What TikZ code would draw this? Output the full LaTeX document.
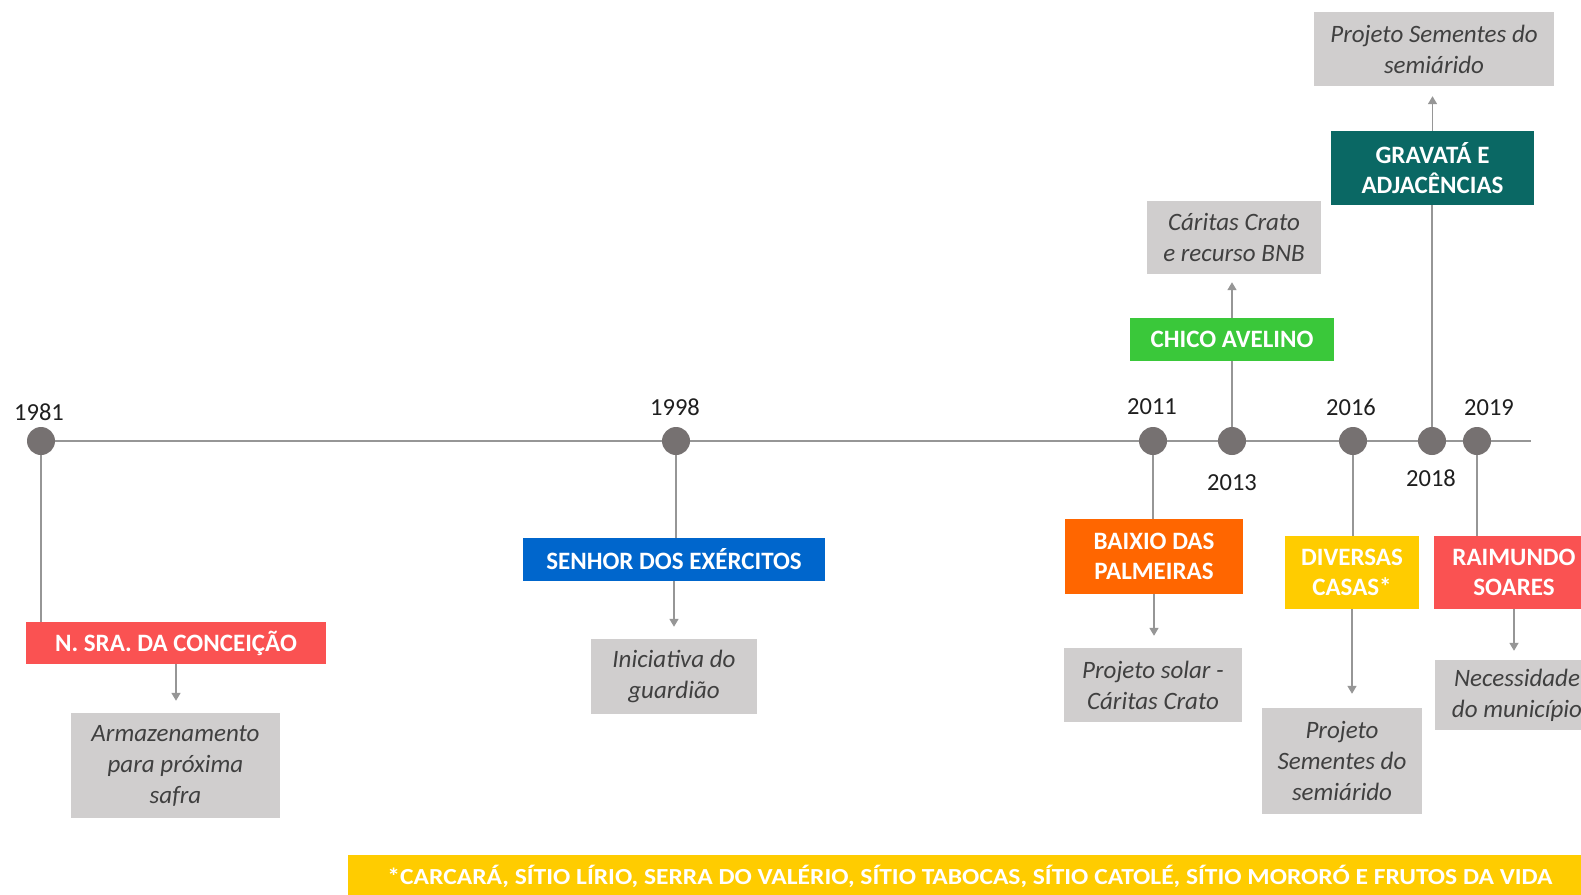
\documentclass[tikz,border=0pt]{standalone}
\usepackage{fontspec}
\setmainfont{Carlito}
\usetikzlibrary{arrows.meta}
\definecolor{cred}{RGB}{250,82,82}
\definecolor{cblue}{RGB}{0,102,204}
\definecolor{corange}{RGB}{255,102,0}
\definecolor{cgreen}{RGB}{58,200,58}
\definecolor{cteal}{RGB}{10,104,100}
\definecolor{cyellow}{RGB}{255,204,0}
\definecolor{notegray}{RGB}{208,206,206}
\definecolor{notetext}{RGB}{64,64,64}
\definecolor{linegray}{RGB}{150,150,150}
\definecolor{dotgray}{RGB}{118,113,113}
\pgfdeclarelayer{bg}
\pgfdeclarelayer{paper}
\pgfsetlayers{paper,bg,main}
\tikzset{
  lab/.style={rectangle, inner sep=0pt, text=white, align=center,
    font=\bfseries\fontsize{25}{30.5}\selectfont},
  note/.style={rectangle, fill=notegray, inner sep=0pt, text=notetext, align=center,
    font=\itshape\fontsize{25}{31}\selectfont},
  yr/.style={inner sep=0pt, text=black!88, font=\fontsize{24.5}{29}\selectfont},
  dot/.style={circle, fill=dotgray, minimum size=28pt, inner sep=0pt},
  conn/.style={draw=linegray, line width=1.6pt},
  arr/.style={conn, -{Triangle[width=9pt,length=8pt]}}
}
\begin{document}
\begin{tikzpicture}[x=1pt,y=-1pt]
\useasboundingbox (0,0) rectangle (1581,894);
\begin{pgfonlayer}{paper}
\fill[white] (0,0) rectangle (1581,894);
\end{pgfonlayer}
\clip (0,0) rectangle (1581,894);

% dots
\node[dot] (d1981) at (41,441) {};
\node[dot] (d1998) at (676,441) {};
\node[dot] (d2011) at (1153,441) {};
\node[dot] (d2013) at (1232,441) {};
\node[dot] (d2016) at (1353,441) {};
\node[dot] (d2018) at (1432,441) {};
\node[dot] (d2019) at (1477,441) {};
\coordinate (tend) at (1531,441);

% years
\node[yr] (y1981) at (39,412) {1981};
\node[yr] (y1998) at (675,407) {1998};
\node[yr] (y2011) at (1152,407) {2011};
\node[yr] (y2013) at (1232,483) {2013};
\node[yr] (y2016) at (1351,407) {2016};
\node[yr] (y2018) at (1431,478) {2018};
\node[yr] (y2019) at (1489,408) {2019};

% event boxes
\node[lab, fill=cred, minimum width=300pt, minimum height=42pt] (nsra) at (176,643) {N. SRA. DA CONCEIÇÃO};
\node[lab, fill=cblue, minimum width=302pt, minimum height=43pt] (senhor) at (674,559.5) {SENHOR DOS EXÉRCITOS};
\node[lab, fill=corange, minimum width=178pt, minimum height=75pt] (baixio) at (1154,556.5) {BAIXIO DAS\\PALMEIRAS};
\node[lab, fill=cgreen, minimum width=204pt, minimum height=43pt] (chico) at (1232,339.5) {CHICO AVELINO};
\node[lab, fill=cteal, minimum width=203pt, minimum height=74pt] (gravata) at (1432.5,168) {GRAVATÁ E\\ADJACÊNCIAS};
\node[lab, fill=cyellow, minimum width=134pt, minimum height=73pt] (diversas) at (1352,572.5) {DIVERSAS\\CASAS*};
\node[lab, fill=cred, minimum width=160pt, minimum height=73pt] (raimundo) at (1514,572.5) {RAIMUNDO\\SOARES};

% notes
\node[note, minimum width=209pt, minimum height=105pt] (arm) at (175.5,765.5) {Armazenamento\\para próxima\\safra};
\node[note, minimum width=166pt, minimum height=75pt] (inic) at (674,676.5) {Iniciativa do\\guardião};
\node[note, minimum width=178pt, minimum height=74pt] (solar) at (1153,685) {Projeto solar -\\Cáritas Crato};
\node[note, minimum width=174pt, minimum height=73pt] (caritas) at (1234,237.5) {Cáritas Crato\\e recurso BNB};
\node[note, minimum width=240pt, minimum height=74pt] (semtop) at (1434,49) {Projeto Sementes do\\semiárido};
\node[note, minimum width=160pt, minimum height=106pt] (semlow) at (1342,761) {Projeto\\Sementes do\\semiárido};
\node[note, minimum width=164pt, minimum height=70pt] (necess) at (1517,695) {Necessidade\\do município};

% footer
\node[rectangle, fill=cyellow, inner sep=0pt, minimum width=1244pt, minimum height=42pt, text=white,
  font=\bfseries\fontsize{23}{26}\selectfont] (foot) at (970,876)
  {\resizebox{1165pt}{\height}{*CARCARÁ, SÍTIO LÍRIO, SERRA DO VALÉRIO, SÍTIO TABOCAS, SÍTIO CATOLÉ, SÍTIO MORORÓ E FRUTOS DA VIDA}};

\begin{pgfonlayer}{bg}
\draw[conn] (d1981) -- (tend);
\draw[conn] (d1981) -- (d1981 |- nsra.north);
\draw[conn] (d1998) -- (d1998 |- senhor.north);
\draw[conn] (d2011) -- (d2011 |- baixio.north);
\draw[conn] (d2013) -- (d2013 |- chico.south);
\draw[conn] (d2016) -- (d2016 |- diversas.north);
\draw[conn] (d2018) -- (d2018 |- gravata.south);
\draw[conn] (d2019) -- (d2019 |- raimundo.north);
\end{pgfonlayer}

% arrows
\draw[arr] (nsra.south) -- ([yshift=12pt]nsra.south |- arm.north);
\draw[arr] (senhor.south) -- ([yshift=12pt]senhor.south |- inic.north);
\draw[arr] (baixio.south) -- ([yshift=12pt]baixio.south |- solar.north);
\draw[arr] (chico.north) -- ([yshift=-8pt]chico.north |- caritas.south);
\draw[arr] (gravata.north) -- ([yshift=-10pt]gravata.north |- semtop.south);
\draw[arr] (diversas.south) -- ([yshift=14pt]diversas.south |- semlow.north);
\draw[arr] (raimundo.south) -- ([yshift=9pt]raimundo.south |- necess.north);
\end{tikzpicture}
\end{document}
